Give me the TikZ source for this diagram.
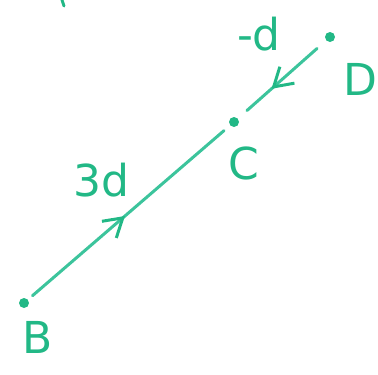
\documentclass[tikz,border=0pt]{standalone}
\usepackage{fontspec}
\setsansfont{DejaVu Sans}
\usepackage{tikz}
\usetikzlibrary{positioning, arrows.meta, decorations.markings}
\definecolor{penGreen}{HTML}{22B886}
\definecolor{penLine}{HTML}{3CC49C}

\begin{document}
\begin{tikzpicture}[x=1pt, y=-1pt,
    pt/.style={circle, fill=penGreen, inner sep=0pt, minimum size=10pt},
    lbl/.style={font=\fontsize{44}{44}\sffamily, text=penGreen},
    seg/.style={line width=3pt, penLine, line cap=round},
    midarrow/.style={postaction={decorate}, decoration={markings,
      mark=at position #1 with {\arrow[penGreen, line width=3pt]{Straight Barb[length=18pt, width=22pt]}}}}]
    \useasboundingbox (0,0) rectangle (378,375);
    % points
    \node[pt] (B) at (24,303) {};
    \node[pt] (C) at (234,122) {};
    \node[pt] (D) at (330,37) {};
    % labels
    \node[lbl] (labB) at (38,337) {B};
    \node[lbl] (labC) at (244,163) {C};
    \node[lbl] (labD) at (360,79) {D};
    \node[lbl] (lab3d) at (101,180) {3d};
    \node[lbl] (labd) at (259,34) {-d};
    % vectors towards C
    \draw[seg, shorten <=6pt, shorten >=8pt, midarrow=0.48] (B) -- (C);
    \draw[seg, shorten <=12pt, shorten >=12pt, midarrow=0.62] (D) -- (C);
    % stray mark at top edge
    \draw[line width=3pt, penGreen, line cap=round] (62,0) -- (64,6);
\end{tikzpicture}
\end{document}
